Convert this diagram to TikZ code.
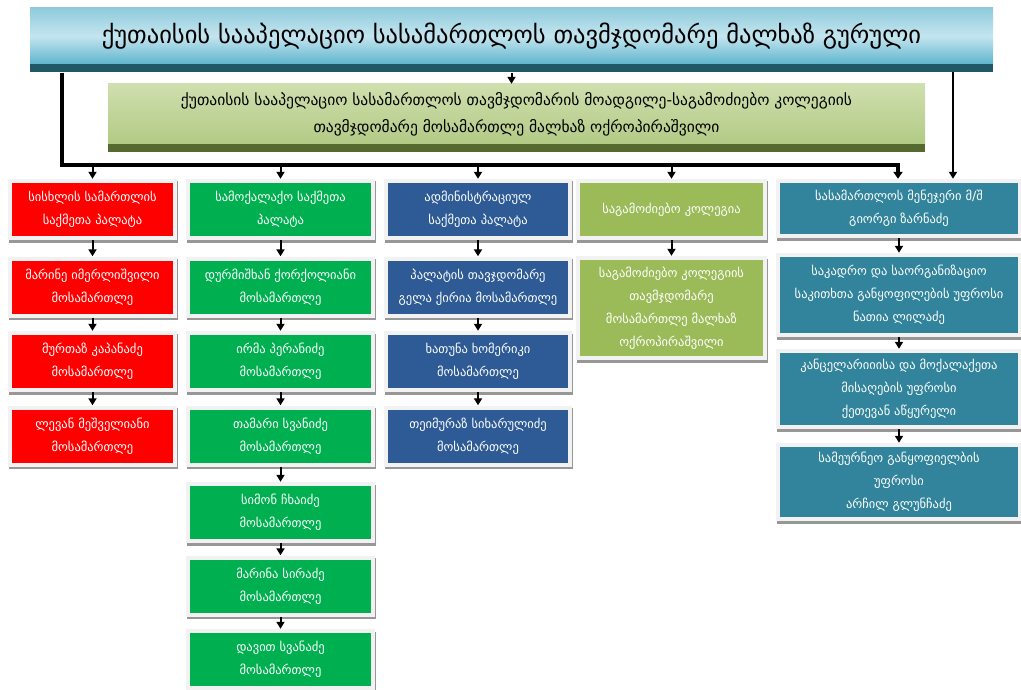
\documentclass[tikz,border=0pt]{standalone}
\usepackage{fontspec}
\setmainfont{DejaVu Sans}
\usetikzlibrary{arrows.meta,shadows}
\definecolor{crimred}{HTML}{FF0000}
\definecolor{civgreen}{HTML}{00B050}
\definecolor{admblue}{HTML}{2E5B95}
\definecolor{invgreen}{HTML}{9BBB59}
\definecolor{mgmteal}{HTML}{31849B}
\definecolor{headtop}{HTML}{8FCBDC}
\definecolor{headmid}{HTML}{C4E5EF}
\definecolor{headbot}{HTML}{5FB5CD}
\definecolor{headband}{HTML}{215868}
\definecolor{deptop}{HTML}{CFDFAE}
\definecolor{depbot}{HTML}{B2CA85}
\definecolor{depband}{HTML}{56692E}

\begin{document}
\begin{tikzpicture}[x=1pt, y=-1pt,
  cbox/.style={fill=black!5, drop shadow={shadow xshift=0.5pt, shadow yshift=-2.5pt, fill=black!45, opacity=0.9},
    path picture={\fill[#1] ([shift={(4pt,-4pt)}]path picture bounding box.north west) rectangle ([shift={(-4pt,4pt)}]path picture bounding box.south east);},
    text=white, align=center, inner sep=0pt, minimum height=61pt, font=\fontsize{12.5}{23}\selectfont},
  crim/.style={cbox=crimred, minimum width=169pt},
  civ/.style={cbox=civgreen, minimum width=189pt},
  adm/.style={cbox=admblue, minimum width=188pt},
  inv/.style={cbox=invgreen, minimum width=191pt},
  mgm/.style={cbox=mgmteal, minimum width=246pt},
  arr/.style={-{Triangle[width=8pt,length=7pt]}, line width=2pt},
  bus/.style={line width=4.5pt, line join=miter}]

\useasboundingbox (0,0) rectangle (1021,690);

\node[minimum width=963pt, minimum height=56pt, inner sep=0pt, top color=headtop, bottom color=headbot, middle color=headmid,
  font=\fontsize{24.5}{28}\selectfont] (chair) at (511.5,36) {ქუთაისის სააპელაციო სასამართლოს თავმჯდომარე მალხაზ გურული};
\node[fill=headband, minimum width=963pt, minimum height=8pt, inner sep=0pt, anchor=north] (chairband) at (chair.south) {};

\node[minimum width=817pt, minimum height=60pt, inner sep=0pt, top color=deptop, bottom color=depbot, align=center,
  font=\fontsize{15.5}{27}\selectfont] (dep) at (516.5,114) {ქუთაისის სააპელაციო სასამართლოს თავმჯდომარის მოადგილე-საგამოძიებო კოლეგიის\\თავმჯდომარე მოსამართლე მალხაზ ოქროპირაშვილი};
\node[fill=depband, minimum width=817pt, minimum height=8pt, inner sep=0pt, anchor=north] (depband) at (dep.south) {};

\node[crim] (crim0) at (92.5,209.5) {სისხლის სამართლის\\საქმეთა პალატა};
\node[crim] (crim1) at (92.5,287) {მარინე იმერლიშვილი\\მოსამართლე};
\node[crim] (crim2) at (92.5,361.5) {მურთაზ კაპანაძე\\მოსამართლე};
\node[crim] (crim3) at (92.5,436) {ლევან მეშველიანი\\მოსამართლე};

\node[civ] (civ0) at (280.5,209.5) {სამოქალაქო საქმეთა\\პალატა};
\node[civ] (civ1) at (280.5,287) {დურმიშხან ქორქოლიანი\\მოსამართლე};
\node[civ] (civ2) at (280.5,361.5) {ირმა პერანიძე\\მოსამართლე};
\node[civ] (civ3) at (280.5,436) {თამარი სვანიძე\\მოსამართლე};
\node[civ] (civ4) at (280.5,512.5) {სიმონ ჩხაიძე\\მოსამართლე};
\node[civ] (civ5) at (280.5,586) {მარინა სირაძე\\მოსამართლე};
\node[civ] (civ6) at (280.5,659.5) {დავით სვანაძე\\მოსამართლე};

\node[adm] (adm0) at (478,209.5) {ადმინისტრაციულ\\საქმეთა პალატა};
\node[adm] (adm1) at (478,287) {პალატის თავჯდომარე\\გელა ქირია მოსამართლე};
\node[adm] (adm2) at (478,361.5) {ხათუნა ხომერიკი\\მოსამართლე};
\node[adm] (adm3) at (478,436) {თეიმურაზ სიხარულიძე\\მოსამართლე};

\node[inv] (inv0) at (671.5,209.5) {საგამოძიებო კოლეგია};
\node[inv, minimum height=104pt] (inv1) at (671.5,308) {საგამოძიებო კოლეგიის\\თავმჯდომარე\\მოსამართლე მალხაზ\\ოქროპირაშვილი};

\node[mgm, minimum height=59pt] (mgm0) at (899,208.5) {სასამართლოს მენეჯერი მ/შ\\გიორგი ზარნაძე};
\node[mgm, minimum height=84pt] (mgm1) at (899,295) {საკადრო და საორგანიზაციო\\საკითხთა განყოფილების უფროსი\\ნათია ლილაძე};
\node[mgm, minimum height=80pt] (mgm2) at (899,389) {კანცელარიიისა და მოქალაქეთა\\მისაღების უფროსი\\ქეთევან აწყურელი};
\node[mgm, minimum height=78pt] (mgm3) at (899,482) {სამეურნეო განყოფიელბის\\უფროსი\\არჩილ გლუნჩაძე};

\coordinate (busL) at (62,165);
\coordinate (busR) at (898,165);
\coordinate (sideR) at (953,72);

\draw[arr] (chairband.south) -- (chairband.south |- dep.north);
\draw[bus, -{Triangle[width=9pt,length=7pt]}] (chairband.south -| busL) -- (busL) -- (busR) -- (busR |- mgm0.north);
\draw[arr, line width=2.5pt] (sideR) -- (sideR |- mgm0.north);
\foreach \c in {crim0,civ0,adm0,inv0}
  \draw[arr] (\c.north |- busL) -- (\c.north);

\foreach \a/\b in {crim0/crim1,crim1/crim2,crim2/crim3,civ0/civ1,civ1/civ2,civ2/civ3,civ3/civ4,civ4/civ5,civ5/civ6,
  adm0/adm1,adm1/adm2,adm2/adm3,inv0/inv1,mgm0/mgm1,mgm1/mgm2,mgm2/mgm3}
  \draw[arr] (\a) -- (\b);
\end{tikzpicture}
\end{document}
